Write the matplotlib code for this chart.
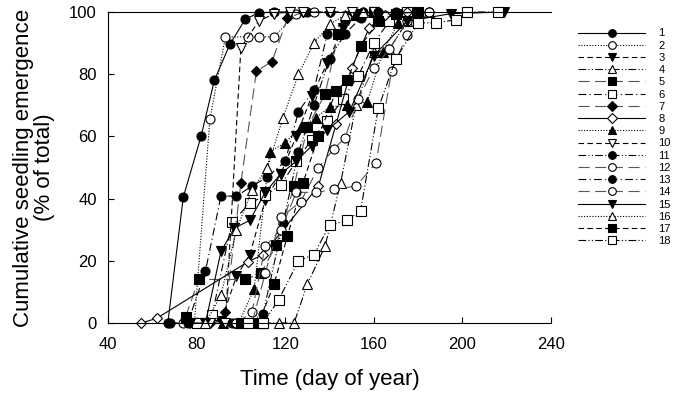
import matplotlib
matplotlib.use("Agg")
import matplotlib.pyplot as plt

plt.rcParams['font.family'] = ['Liberation Sans', 'DejaVu Sans']

labels = [str(i) for i in range(1, 19)]

days1 = [67, 74, 82, 88, 95, 102, 108, 115, 122, 130]
pct1 = [0, 40.5, 60, 78, 89.6, 97.7, 99.7, 100, 100, 100]
days2 = [74, 79, 86, 93, 103, 108, 115, 125, 133, 140]
pct2 = [0, 0, 65.6, 92, 92, 92, 92, 99.5, 100, 100]
days3 = [84, 91, 98, 104, 111, 118, 125, 132, 139, 146, 153, 160]
pct3 = [0, 0.5, 15, 22, 39.5, 48, 60, 73, 83.6, 95, 99.5, 100]
days4 = [110, 117, 124, 130, 138, 145, 152, 160, 167, 175, 185]
pct4 = [0, 0, 0, 12.5, 24.7, 45, 70, 87, 88, 97, 100]
days5 = [75, 81, 102, 109, 116, 124, 130, 138, 144, 152, 160]
pct5 = [2, 14, 14, 16, 25, 44, 63, 73.6, 93, 99, 100]
days6 = [80, 87, 96, 104, 111, 118, 125, 132, 139, 146, 153, 160, 167, 175]
pct6 = [0, 2.6, 32.5, 38.5, 41, 44.4, 52, 59, 65, 72, 79.5, 90, 97, 100]
days7 = [86, 93, 100, 107, 114, 121, 128, 140, 150]
pct7 = [0, 3.5, 45, 81, 84, 98, 100, 100, 100]
days8 = [55, 62, 103, 110, 135, 143, 150, 158, 165, 175]
pct8 = [0, 1.5, 19.6, 22, 44, 64, 82, 95, 99, 100]
days9 = [92, 99, 106, 113, 120, 127, 134, 140, 148, 157, 164, 171, 180]
pct9 = [0, 0, 11, 55, 58, 63, 66, 69.5, 70, 71, 87, 96.5, 100]
days10 = [86, 93, 100, 108, 115, 122, 128, 140, 150, 160]
pct10 = [0, 0, 88.5, 97, 99.5, 100, 100, 100, 100, 100]
days11 = [96, 103, 110, 119, 126, 133, 140, 147, 154, 162, 170]
pct11 = [0, 0, 3, 32, 55, 70, 85, 93, 98, 100, 100]
days12 = [98, 105, 111, 118, 125, 134, 142, 152, 161, 168, 175, 185]
pct12 = [0, 3.5, 24.7, 30, 42, 42, 43, 44, 51.5, 81, 92.6, 100]
days13 = [68, 76, 84, 91, 98, 105, 112, 120, 126, 133, 139, 147, 155]
pct13 = [0, 0, 16.7, 40.8, 40.8, 44, 47, 52, 68, 75, 93, 97, 100]
days14 = [98, 105, 111, 118, 127, 135, 142, 147, 153, 160, 167, 175, 185]
pct14 = [0, 0, 16, 34, 39, 50, 56, 59.5, 72, 82, 88, 97, 100]
days15 = [77, 84, 91, 97, 104, 111, 118, 125, 132, 139, 149, 160, 175, 195, 219]
pct15 = [0, 0, 23, 30.5, 33, 42, 48, 52, 57, 62, 68, 86, 97, 99.5, 100]
days16 = [84, 91, 98, 105, 112, 119, 126, 133, 140, 147, 155]
pct16 = [0, 9, 30, 42.7, 50, 66, 80, 90, 96, 99, 100]
days17 = [100, 108, 115, 121, 128, 135, 143, 148, 154, 162, 170, 180]
pct17 = [0, 0, 12.5, 28, 45, 60, 74.6, 78, 89, 97, 99.5, 100]
days18 = [103, 110, 117, 126, 133, 140, 148, 154, 162, 170, 180, 188, 197, 202, 216]
pct18 = [0, 0, 7.4, 20, 22, 31.5, 33, 36, 69, 85, 96.5, 96.5, 97.5, 100, 100]

x_ticks = [40, 80, 120, 160, 200, 240]
y_ticks = [0, 20, 40, 60, 80, 100]

all_days = [days1, days2, days3, days4, days5, days6, days7, days8, days9,
            days10, days11, days12, days13, days14, days15, days16, days17, days18]
all_pct = [pct1, pct2, pct3, pct4, pct5, pct6, pct7, pct8, pct9,
           pct10, pct11, pct12, pct13, pct14, pct15, pct16, pct17, pct18]

solid = '-'
dotted = (0, (1, 1.5))
dashed = (0, (5, 3))
dashdotdot = (0, (7, 2, 1, 2, 1, 2))
longdash = (0, (10, 5))
dashdot = (0, (7, 3, 1, 3))

styles = [
    ('o', 'black', solid, 'black'),
    ('o', 'white', dotted, 'black'),
    ('v', 'black', dashed, 'black'),
    ('^', 'white', dashdotdot, 'black'),
    ('s', 'black', longdash, '#555555'),
    ('s', 'white', dashdot, 'black'),
    ('D', 'black', longdash, '#555555'),
    ('D', 'white', solid, 'black'),
    ('^', 'black', dotted, 'black'),
    ('v', 'white', dashed, 'black'),
    ('o', 'black', dashdotdot, 'black'),
    ('o', 'white', longdash, '#555555'),
    ('o', 'black', dashdot, 'black'),
    ('o', 'white', longdash, '#555555'),
    ('v', 'black', solid, 'black'),
    ('^', 'white', dotted, 'black'),
    ('s', 'black', dashed, 'black'),
    ('s', 'white', dashdotdot, 'black'),
]

fig = plt.figure(figsize=(6.73, 3.98), dpi=100)
ax = fig.add_axes([108 / 673, 1 - 323 / 398, (551 - 108) / 673, (323 - 12) / 398])

handles = []
for d, p, (m, fc, ls, lc), lab in zip(all_days, all_pct, styles, labels):
    ms = 5.5 if m == 'D' else 6.5
    h, = ax.plot(d, p, linestyle=ls, color=lc, linewidth=0.8, marker=m,
                 markersize=ms, markerfacecolor=fc, markeredgecolor='black',
                 markeredgewidth=0.8, clip_on=False, label=lab)
    handles.append(h)

ax.set_xlim(40, 240)
ax.set_ylim(0, 100)
ax.set_xticks(x_ticks)
ax.set_yticks(y_ticks)
ax.tick_params(direction='in', length=4, width=0.8, labelsize=12, pad=10)
ax.tick_params(axis='y', pad=8)
for s in ['left', 'bottom', 'top']:
    ax.spines[s].set_linewidth(0.8)
ax.spines['right'].set_visible(False)

ax.set_xlabel('Time (day of year)', fontsize=16, labelpad=12)
ax.set_ylabel('Cumulative seedling emergence\n(% of total)', fontsize=16,
              labelpad=10, linespacing=1.0)

leg = fig.legend(handles=handles, labels=labels, loc='upper left',
                 bbox_to_anchor=(574 / 673, 1 - 24 / 398), frameon=False,
                 fontsize=8, handlelength=6.0, handletextpad=1.2,
                 labelspacing=0.2, borderaxespad=0, markerscale=0.85)

fig.savefig('out.png', dpi=100)
